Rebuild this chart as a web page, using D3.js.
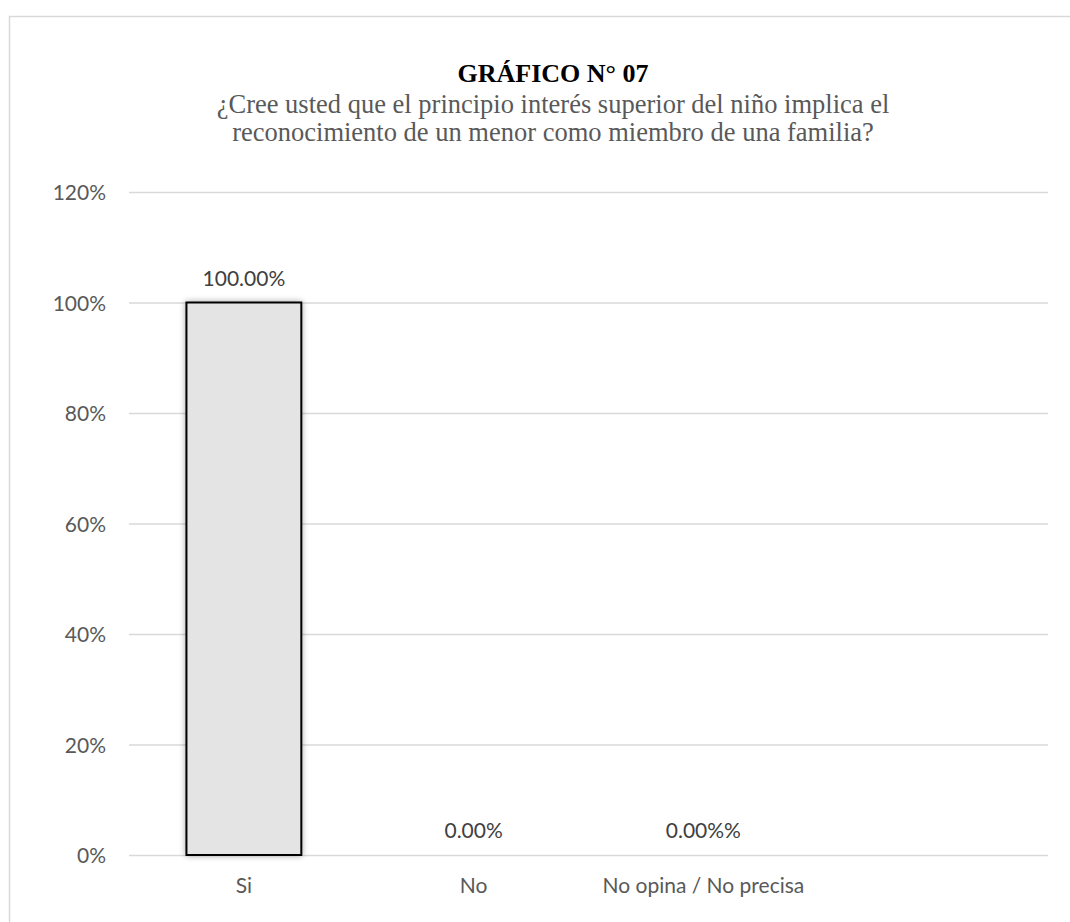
<!DOCTYPE html>
<html>
<head>
<meta charset="utf-8">
<script src="https://cdn.jsdelivr.net/npm/d3@7"></script>
<style>
  html, body { margin: 0; padding: 0; background: #ffffff; }
  svg { display: block; }
</style>
</head>
<body>
<svg id="chart" width="1070" height="922"></svg>
<script>
// ---- data ----
const categories = ["Si", "No", "No opina / No precisa", ""];
const values = [1.0, 0.0, 0.0, null];
const valueLabels = ["100.00%", "0.00%", "0.00%%", ""];
const yTicks = [0, 0.2, 0.4, 0.6, 0.8, 1.0, 1.2];
const titleText = "GRÁFICO N° 07";
const subtitleLines = [
  "¿Cree usted que el principio interés superior del niño implica el",
  "reconocimiento de un menor como miembro de una familia?"
];

// ---- layout ----
const W = 1070, H = 922;
const plot = { left: 129, right: 1048, top: 192, bottom: 855 };
const svg = d3.select("#chart");
const sansFont = "Lato, 'Open Sans', sans-serif";
const serifFont = "'Liberation Serif', 'Times New Roman', serif";
const gray = "#595959";

// outer frame (extends past the window to the right and bottom)
svg.append("rect")
  .attr("x", 9.5).attr("y", 16.5)
  .attr("width", 1200).attr("height", 1000)
  .attr("fill", "none").attr("stroke", "#d9d9d9").attr("stroke-width", 1.5);

// shadow filter
const defs = svg.append("defs");
const f = defs.append("filter").attr("id", "shadow")
  .attr("x", "-20%").attr("y", "-5%").attr("width", "140%").attr("height", "110%");
f.append("feGaussianBlur").attr("in", "SourceAlpha").attr("stdDeviation", 3).attr("result", "blur");
f.append("feComponentTransfer").attr("in", "blur").attr("result", "soft")
  .append("feFuncA").attr("type", "linear").attr("slope", 0.35);
const merge = f.append("feMerge");
merge.append("feMergeNode").attr("in", "soft");
merge.append("feMergeNode").attr("in", "SourceGraphic");

// scales
const x = d3.scaleBand().domain(categories.map((c, i) => i))
  .range([plot.left, plot.right]).paddingInner(0.5).paddingOuter(0.25);
const y = d3.scaleLinear().domain([0, 1.2]).range([plot.bottom, plot.top]);

// gridlines
svg.append("g")
  .attr("transform", `translate(${plot.left},0)`)
  .call(d3.axisLeft(y).tickValues(yTicks).tickSize(-(plot.right - plot.left)).tickFormat(""))
  .call(g => g.select(".domain").remove())
  .call(g => g.selectAll("line").attr("stroke", "#d9d9d9").attr("stroke-width", 1.5));

// y tick labels
svg.append("g")
  .attr("transform", `translate(106,0)`)
  .call(d3.axisLeft(y).tickValues(yTicks).tickSize(0).tickPadding(0).tickFormat(d3.format(".0%")))
  .call(g => g.select(".domain").remove())
  .call(g => g.selectAll("text")
    .attr("font-family", sansFont).attr("font-size", 21).attr("fill", gray)
    .attr("dy", "0.36em"));

// bars
const barData = categories.map((c, i) => ({ i, v: values[i], label: valueLabels[i] }))
  .filter(d => d.v !== null);
svg.append("g").selectAll("rect")
  .data(barData.filter(d => d.v > 0))
  .join("rect")
  .attr("x", d => x(d.i))
  .attr("y", d => y(d.v))
  .attr("width", x.bandwidth())
  .attr("height", d => y(0) - y(d.v))
  .attr("fill", "#e4e4e4")
  .attr("stroke", "#000000")
  .attr("stroke-width", 2)
  .attr("filter", "url(#shadow)");

// value labels
svg.append("g").selectAll("text")
  .data(barData)
  .join("text")
  .attr("x", d => x(d.i) + x.bandwidth() / 2)
  .attr("y", d => y(d.v) - 17)
  .attr("text-anchor", "middle")
  .attr("font-family", sansFont).attr("font-size", 21).attr("fill", "#404040")
  .text(d => d.label);

// x axis labels
svg.append("g")
  .attr("transform", `translate(0,${plot.bottom})`)
  .call(d3.axisBottom(x).tickSize(0).tickPadding(0).tickFormat(i => categories[i]))
  .call(g => g.select(".domain").remove())
  .call(g => g.selectAll("text")
    .attr("font-family", sansFont).attr("font-size", 21).attr("fill", gray)
    .attr("dy", 0).attr("y", 38));

// titles
const cx = 553;
svg.append("text")
  .attr("x", cx).attr("y", 82)
  .attr("text-anchor", "middle")
  .attr("font-family", serifFont).attr("font-weight", "bold").attr("font-size", 26)
  .attr("fill", "#000000")
  .text(titleText);

svg.append("g").selectAll("text")
  .data(subtitleLines)
  .join("text")
  .attr("x", cx)
  .attr("y", (d, i) => 113 + i * 28)
  .attr("text-anchor", "middle")
  .attr("font-family", serifFont).attr("font-size", 26.5)
  .attr("fill", gray)
  .text(d => d);
</script>
</body>
</html>
